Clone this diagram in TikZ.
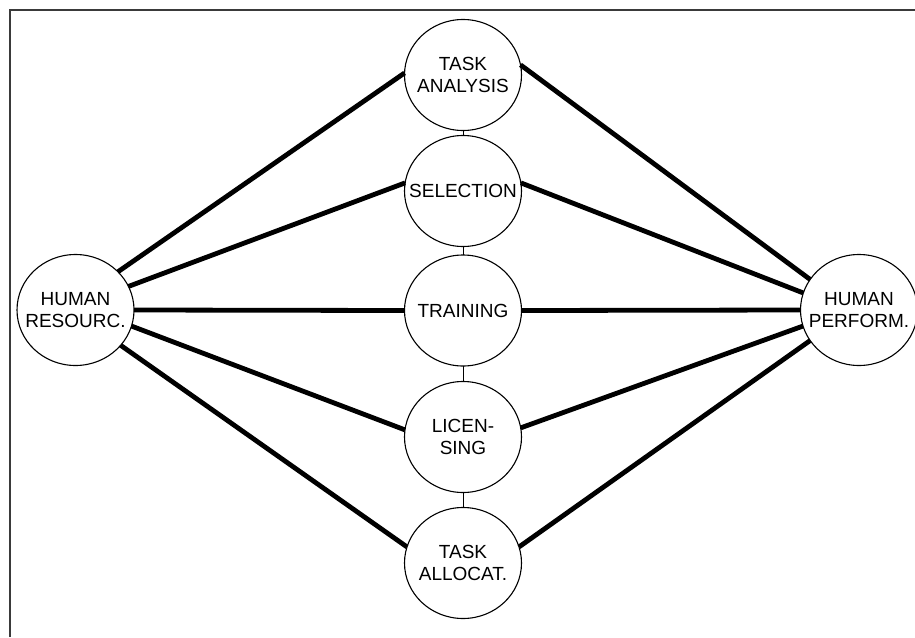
\documentclass[tikz,border=0pt]{standalone}
\usepackage{fontspec}
\setmainfont{Liberation Sans}
\usetikzlibrary{shapes.geometric}
\definecolor{framegray}{HTML}{3A3A3A}
\begin{document}
\begin{tikzpicture}[x=1pt,y=-1pt,
  blob/.style={draw=black, line width=1.1pt, ellipse, inner sep=0pt, outer sep=0pt,
    minimum width=117pt, minimum height=111pt},
  lbl/.style={align=center, inner sep=0pt, font=\fontsize{19pt}{22pt}\selectfont},
  link/.style={line width=4.8pt, black},
  chain/.style={line width=1pt, black},
  framepart/.style={line width=2pt, framegray}]
\useasboundingbox (0,0) rectangle (915,637);
\coordinate (fbl) at (10,637);
\coordinate (ftl) at (10,10);
\coordinate (ftr) at (915,10);
\draw[framepart] (fbl) -- (ftl) -- (ftr);

\node[blob, label={[lbl]center:HUMAN\\RESOURC.}] (hr) at (75.5,310) {};
\node[blob, label={[lbl]center:HUMAN\\PERFORM.}] (hp) at (859,310) {};
\node[blob, label={[lbl]center:TASK\\ANALYSIS}] (ta) at (463,75) {};
\node[blob, label={[lbl]center:SELECTION}] (se) at (463,191) {};
\node[blob, label={[lbl]center:TRAINING}] (tr) at (463,310.5) {};
\node[blob, label={[lbl]center:LICEN-\\SING}] (li) at (463,437) {};
\node[blob, label={[lbl]center:TASK\\ALLOCAT.}] (al) at (463,563) {};

\draw[chain] (ta.south) -- (se.north);
\draw[chain] (se.south) -- (tr.north);
\draw[chain] (tr.south) -- (li.north);
\draw[chain] (li.south) -- (al.north);

\draw[link] (hr.42) -- (ta.178);
\draw[link] (hr.24) -- (se.172);
\draw[link] (hr.0) -- (tr.180);
\draw[link] (hr.-16) -- (li.173);
\draw[link] (hr.-38) -- (al.164);

\draw[link] (ta.10) -- (hp.148);
\draw[link] (se.8) -- (hp.163);
\draw[link] (tr.0) -- (hp.180);
\draw[link] (li.9) -- (hp.196);
\draw[link] (al.16) -- (hp.212);
\end{tikzpicture}
\end{document}
